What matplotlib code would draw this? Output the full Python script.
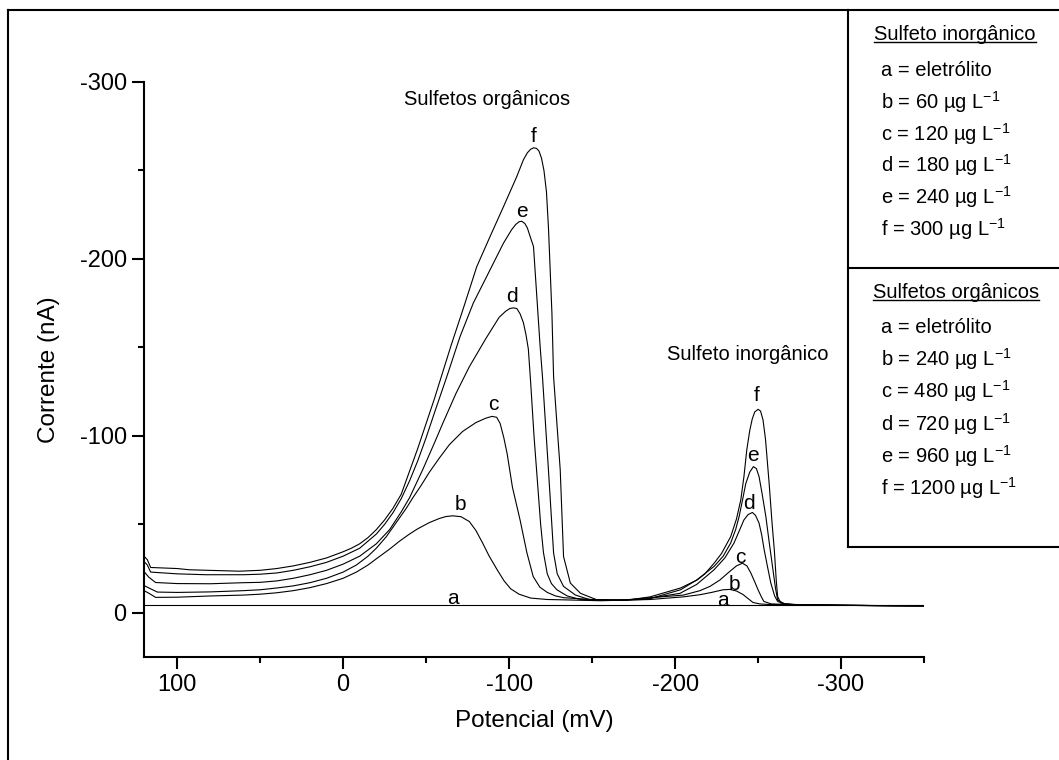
import numpy as np
import matplotlib
matplotlib.use('Agg')
import matplotlib.pyplot as plt
from matplotlib.lines import Line2D
from matplotlib.ticker import MultipleLocator

plt.rcParams['font.family'] = ['Liberation Sans', 'DejaVu Sans']
plt.rcParams['mathtext.fontset'] = 'custom'
plt.rcParams['mathtext.rm'] = 'Liberation Sans'
plt.rcParams['mathtext.it'] = 'Liberation Sans:italic'
plt.rcParams['axes.unicode_minus'] = False

# potencial (mV) / corrente (nA)
a_x = [120, 0, -100, -200, -300, -350]
a_y = [-4.2, -4.2, -4.2, -4.2, -4.2, -4.2]

b_x = [120, 117, 113, 100, 80, 60, 50, 40, 30, 20, 10, 0, -8, -15, -20, -28, -34, -40, -45, -52,
       -58, -62, -66, -71, -76, -80, -84, -88, -93, -97, -101, -106, -113, -123, -133, -155, -185, -205,
       -215, -222, -229, -233, -237, -241, -244, -247, -251, -256, -275, -300, -330, -350]
b_y = [-12.5, -11, -8.7, -8.8, -9.5, -10, -10.5, -11.3, -12.5, -14.2, -16.5, -19.5, -23, -27, -30.5, -36, -40.5, -44.5, -47.5, -51,
       -53.3, -54.4, -54.8, -54.3, -51.6, -46.5, -39.5, -32, -24, -18, -13.5, -10.5, -8.3, -7.5, -7.3, -6.8, -7.5, -9,
       -10.2, -11.5, -13, -13.2, -12.3, -10.3, -8, -5.8, -5, -4.7, -4.5, -4.2, -4.0, -3.9]

c_x = [120, 117, 112, 100, 80, 60, 50, 40, 30, 20, 10, 0, -8, -15, -20, -26, -32, -38, -42, -47,
       -52, -58, -64, -72, -80, -86, -89.7, -92.5, -94.6, -96.8, -98.8, -102, -106.6, -110.7, -114.5, -118.5, -123, -128, -133,
       -150, -170, -185, -205, -215, -221, -227, -232, -237, -240.6, -243.3, -245.6, -248, -250, -252, -253.5, -258,
       -275, -300, -330, -350]
c_y = [-15.4, -14, -11.7, -11.5, -11.8, -12.5, -13, -14, -15.2, -17, -19.5, -23, -27, -32, -36.5, -43, -51, -59, -65, -72,
       -79.5, -87.5, -95, -102.5, -107.5, -110, -111, -110.5, -107, -99, -90, -71, -52.5, -34, -20.5, -14.5, -11.5, -9.5, -8.5,
       -7.5, -7.3, -8.5, -10, -12.5, -14.9, -18.5, -22.6, -26.5, -28, -26.5, -22.6, -17.5, -13, -9, -6.4, -5,
       -4.5, -4.2, -4.0, -3.9]

d_x = [120, 117, 113, 100, 80, 60, 50, 40, 30, 20, 10, 0, -10, -20, -28, -35, -40, -48, -55, -60,
       -68, -76, -86, -94, -98, -100.5, -102.6, -104.6, -106.6, -108.6, -110.2, -111.6, -113, -115, -117, -119, -120.7,
       -123, -125.5, -128.8, -135, -143, -160, -180, -203, -213, -223.5, -230, -235.5, -239, -241.5, -244, -246.6,
       -248.5, -250.6, -252.2, -253.7, -255.7, -257.7, -260, -261.8, -266, -275, -300, -330, -350]
d_y = [-23.3, -20, -17.1, -16.5, -16.4, -17, -17.2, -18, -19.5, -21.5, -24, -27.5, -32, -39, -47, -57, -65, -81, -96, -107,
       -124, -139, -155, -167, -170.5, -172, -172.3, -172, -169, -164, -157, -149, -130, -100, -75, -50, -34,
       -22, -16.5, -13, -9.5, -7.5, -7, -7.5, -11, -16, -24.3, -31, -39.4, -47, -52.5, -55.5, -56.7,
       -55, -50.7, -44, -35.6, -26, -16.8, -9.5, -6.4, -5, -4.5, -4.2, -4.0, -3.9]

e_x = [120, 118, 116, 100, 82.7, 60, 50, 40, 30, 20, 10, 0, -10, -20, -25, -30, -35, -40, -45, -50,
       -55, -62.3, -70.4, -78.4, -88.5, -96.6, -101.5, -104, -106, -107.6, -109.5, -111, -112.7, -114.7, -116.7, -118.7,
       -120.1, -123.7, -126.8, -129, -132.8, -140, -149, -165, -185, -203.3, -213, -223.5, -229, -233.5, -236.5, -238.6,
       -240.7, -242.6, -245, -247.2, -249, -250.6, -252.5, -254.7, -256.7, -258.7, -260.5, -261.8, -266, -275,
       -300, -330, -350]
e_y = [-29, -27, -23, -22, -21.5, -21.5, -21.8, -22.5, -24, -26, -28.5, -32, -36.5, -44.5, -50, -56.5, -64.5, -74.5, -86, -99,
       -113, -133, -156, -175, -193.8, -208.9, -216.5, -219.5, -221, -221.3, -220, -217.5, -212.6, -207, -178.7, -150.4,
       -133.5, -80.8, -33.8, -22, -14.9, -10, -7.3, -7, -8, -13, -18.5, -26.2, -32, -39.4, -47, -54.4,
       -64, -73, -79.5, -82.6, -81.5, -77, -67, -54.4, -40, -26.2, -14, -7.3, -5, -4.5,
       -4.2, -4.0, -3.9]

f_x = [120, 118, 116, 100, 92.7, 62.5, 50, 40, 30, 20, 10, 0, -5, -10, -15, -20, -25, -30, -35, -40,
       -45, -50, -55, -60, -65, -72.4, -80.5, -88.5, -96.6, -104.6, -108.6, -111, -113, -114.7, -116.5, -118, -119.5,
       -121, -122.5, -123.7, -125.8, -126.8, -128.8, -130.8, -132.8, -136.9, -143, -153, -170, -185, -203.3, -213.4,
       -218, -223.5, -228, -233.5, -237, -239.6, -241.5, -243.2, -245, -246.5, -248, -250, -251.5, -253, -254.5,
       -256.7, -258.5, -259.8, -261, -261.8, -263.7, -270, -290, -310, -330, -350]
f_y = [-32, -30, -25.6, -25, -24.3, -23.5, -24, -25, -26.5, -28.5, -31, -34.5, -36.5, -39, -42.5, -47, -52.5, -59, -67, -80,
       -93, -107, -121, -136, -151, -172, -195.6, -212.6, -229.5, -246.5, -256, -260, -262, -262.8, -262.5, -261, -257,
       -250, -238, -218, -169.3, -133.5, -107, -80.8, -31.8, -16.8, -11, -7.3, -7, -9, -14, -18.6,
       -22, -28, -33.5, -43, -53, -63.8, -77, -92, -103, -109.5, -113.5, -115, -114, -109, -98,
       -73, -50, -35.6, -18, -9.2, -5.5, -4.7, -4.5, -4.2, -4.0, -3.9]

curves = [(a_x, a_y), (b_x, b_y), (c_x, c_y), (d_x, d_y), (e_x, e_y), (f_x, f_y)]

letters = ['a', 'b', 'c', 'd', 'e', 'f']
org_lbl_x = [-66, -70.4, -90.5, -101.5, -107.6, -114.7]
org_lbl_y = [-8.3, -61, -117.5, -179, -227, -269]
inorg_lbl_x = [-229, -235.5, -239.6, -244.6, -247.2, -249.2]
inorg_lbl_y = [-7, -15.8, -31.5, -61.6, -88.7, -122.6]

inorg_items = ['a = eletrólito', 'b = 60 µg L$^{-1}$', 'c = 120 µg L$^{-1}$',
               'd = 180 µg L$^{-1}$', 'e = 240 µg L$^{-1}$', 'f = 300 µg L$^{-1}$']
org_items = ['a = eletrólito', 'b = 240 µg L$^{-1}$', 'c = 480 µg L$^{-1}$',
             'd = 720 µg L$^{-1}$', 'e = 960 µg L$^{-1}$', 'f = 1200 µg L$^{-1}$']

W, H = 1059, 760
fig = plt.figure(figsize=(W / 100, H / 100), dpi=100)
ax = fig.add_axes([144 / W, 1 - 657 / H, (924 - 144) / W, (657 - 82) / H])

for x, y in curves:
    ax.plot(x, y, color='k', lw=0.8)

ax.set_xlim(120, -350)
ax.set_ylim(25, -300)
ax.xaxis.set_major_locator(MultipleLocator(100))
ax.xaxis.set_minor_locator(MultipleLocator(50))
ax.yaxis.set_major_locator(MultipleLocator(100))
ax.yaxis.set_minor_locator(MultipleLocator(50))
for s in ['top', 'right']:
    ax.spines[s].set_visible(False)
for s in ['left', 'bottom']:
    ax.spines[s].set_linewidth(1.5)
ax.tick_params(which='major', direction='out', length=8.5, width=1.5, labelsize=17, pad=4)
ax.tick_params(which='minor', direction='out', length=4.5, width=1.5)
ax.set_xlabel('Potencial (mV)', fontsize=17.5, labelpad=10)
ax.set_ylabel('Corrente (nA)', fontsize=17.5, labelpad=14)

for i, L in enumerate(letters):
    ax.text(org_lbl_x[i], org_lbl_y[i], L, fontsize=15, ha='center', va='center')
    ax.text(inorg_lbl_x[i], inorg_lbl_y[i], L, fontsize=15, ha='center', va='center')

ax.text(-87, -290, 'Sulfetos orgânicos', fontsize=14.5, ha='center', va='center')
ax.text(-243.8, -145.8, 'Sulfeto inorgânico', fontsize=14.5, ha='center', va='center')

# outer frame and legend box
def fline(xs, ys, lw=1.5):
    fig.add_artist(Line2D([v / W for v in xs], [1 - v / H for v in ys],
                          transform=fig.transFigure, color='k', lw=lw, clip_on=False))

fline([8, 8], [10, H + 5])
fline([8, W + 5], [10, 10])
fline([848, 848], [10, 547])
fline([848, W + 5], [547, 547])
fline([848, W + 5], [268, 268])

h1 = fig.text(874 / W, 1 - 34 / H, 'Sulfeto inorgânico', fontsize=14.5, ha='left', va='center')
h2 = fig.text(873 / W, 1 - 292 / H, 'Sulfetos orgânicos', fontsize=14.5, ha='left', va='center')
for i, s in enumerate(inorg_items):
    fig.text(881 / W, 1 - (70 + i * 31.8) / H, s, fontsize=14.5, ha='left', va='center')
for i, s in enumerate(org_items):
    fig.text(881 / W, 1 - (327 + i * 32.2) / H, s, fontsize=14.5, ha='left', va='center')

fig.canvas.draw()
r = fig.canvas.get_renderer()
for h in [h1, h2]:
    bb = h.get_window_extent(r)
    fig.add_artist(Line2D([bb.x0 / W, bb.x1 / W], [(bb.y0 + 2) / H, (bb.y0 + 2) / H],
                          transform=fig.transFigure, color='k', lw=1.0))

fig.savefig('out.png', dpi=100)
